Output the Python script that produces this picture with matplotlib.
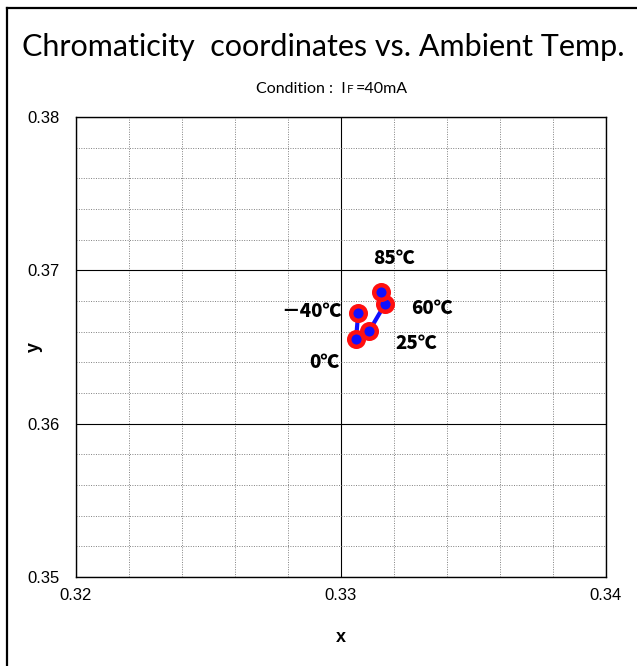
import matplotlib.pyplot as plt
from matplotlib.lines import Line2D
from matplotlib.ticker import MultipleLocator

# chromaticity coordinates, in temperature order
temps = ['－40℃', '0℃', '25℃', '60℃', '85℃']
cie_x = [0.33065, 0.33057, 0.33107, 0.33166, 0.33151]
cie_y = [0.36724, 0.36554, 0.36606, 0.36780, 0.36861]

# label offsets in points (dx, dy) relative to each point
label_offsets = [(-34, 1), (-23, -17), (34, -9), (34, -3), (9, 24)]


def plot_chart():
    fig = plt.figure(figsize=(6.37, 6.66), dpi=100)
    ax = fig.add_axes([0.1193, 0.1336, 0.832, 0.6907])

    ax.set_xlim(0.32, 0.34)
    ax.set_ylim(0.35, 0.38)
    ax.xaxis.set_major_locator(MultipleLocator(0.01))
    ax.yaxis.set_major_locator(MultipleLocator(0.01))
    ax.xaxis.set_minor_locator(MultipleLocator(0.002))
    ax.yaxis.set_minor_locator(MultipleLocator(0.002))
    ax.grid(which='minor', color='#808080', linestyle=(0, (1, 1.5)), linewidth=0.7)
    ax.grid(which='major', color='black', linestyle='-', linewidth=0.8)
    ax.set_axisbelow(True)
    ax.tick_params(which='both', length=0, pad=8)
    ax.set_xticks([0.32, 0.33, 0.34], ['0.32', '0.33', '0.34'])
    ax.set_yticks([0.35, 0.36, 0.37, 0.38], ['0.35', '0.36', '0.37', '0.38'])
    for lab in ax.get_xticklabels() + ax.get_yticklabels():
        lab.set_fontfamily('Liberation Sans')
        lab.set_fontsize(12)
    ax.tick_params(axis='y', pad=12)
    for sp in ax.spines.values():
        sp.set_linewidth(1.0)

    ax.plot(cie_x, cie_y, color='#1010ff', linewidth=3, zorder=3)
    ax.plot(cie_x, cie_y, linestyle='none', marker='o', markersize=10.5,
            markerfacecolor='#1010ff', markeredgecolor='#ff1010',
            markeredgewidth=3.2, zorder=4)

    for t, px, py, (dx, dy) in zip(temps, cie_x, cie_y, label_offsets):
        ax.annotate(t, (px, py), xytext=(dx, dy), textcoords='offset points',
                    ha='center', va='center', fontsize=13.5, fontweight='heavy',
                    family=['Noto Sans CJK JP', 'DejaVu Sans'])

    ax.set_xlabel('x', fontsize=13, fontweight='bold', family='Liberation Sans')
    ax.xaxis.set_label_coords(0.5, -0.113)
    ax.set_ylabel('y', fontsize=13, fontweight='bold', family='Liberation Sans')
    ax.yaxis.set_label_coords(-0.062, 0.5)

    fig.text(0.507, 0.929, 'Chromaticity  coordinates vs. Ambient Temp.',
             ha='center', va='center', fontsize=22, family='Lato')
    # subtitle with small-cap F
    fig.text(0.5435, 0.861, 'Condition :  I', ha='right', va='baseline',
             fontsize=11.5, family='Lato')
    fig.text(0.5448, 0.861, 'F', ha='left', va='baseline', fontsize=8.5, family='Lato')
    fig.text(0.5585, 0.861, '=40mA', ha='left', va='baseline', fontsize=11.5, family='Lato')

    # partial outer frame (top and left edges)
    fig.add_artist(Line2D([0.0115, 1.0], [0.9887, 0.9887], transform=fig.transFigure,
                          color='black', linewidth=1.6))
    fig.add_artist(Line2D([0.0115, 0.0115], [0.0, 0.9887], transform=fig.transFigure,
                          color='black', linewidth=1.6))

    fig.savefig('out.png', dpi=100)


if __name__ == '__main__':
    plot_chart()
